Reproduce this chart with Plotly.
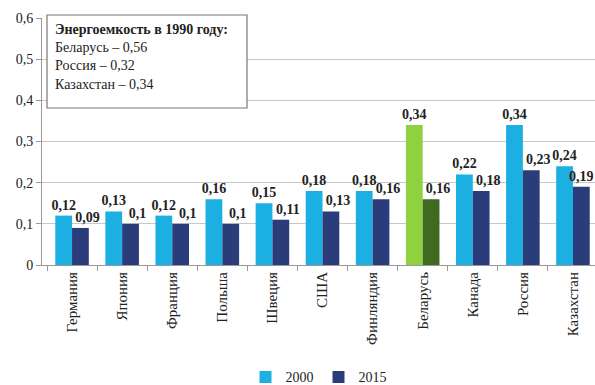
import plotly.graph_objects as go

countries = ["Германия", "Япония", "Франция", "Польша", "Швеция", "США",
             "Финляндия", "Беларусь", "Канада", "Россия", "Казахстан"]
v2000 = [0.12, 0.13, 0.12, 0.16, 0.15, 0.18, 0.18, 0.34, 0.22, 0.34, 0.24]
v2015 = [0.09, 0.10, 0.10, 0.10, 0.11, 0.13, 0.16, 0.16, 0.18, 0.23, 0.19]
highlight = "Беларусь"

c2000 = ["#8fd13f" if c == highlight else "#1cb0e2" for c in countries]
c2015 = ["#3e6b1f" if c == highlight else "#2a3d7a" for c in countries]
# 2015 labels are nudged right (as in the source), except the last one at the edge
t2015 = ["&nbsp;&nbsp;&nbsp;&nbsp;<b>%{y}</b>"] * (len(countries) - 1) + ["<b>%{y}</b>"]

font_fam = "Liberation Serif"
PW = 553  # plot width in px (595 - 42 - 0)

fig = go.Figure()
fig.add_trace(go.Bar(x=countries, y=v2000, name="2000",
                     marker=dict(color=c2000, line=dict(width=0)),
                     texttemplate="<b>%{y}</b>", textposition="outside",
                     constraintext="none",
                     textfont=dict(family=font_fam, size=14, color="#222"),
                     cliponaxis=False))
fig.add_trace(go.Bar(x=countries, y=v2015, name="2015",
                     marker=dict(color=c2015, line=dict(width=0)),
                     texttemplate=t2015, textposition="outside",
                     constraintext="none",
                     textfont=dict(family=font_fam, size=14, color="#222"),
                     cliponaxis=False))

fig.update_layout(
    width=595, height=385,
    margin=dict(l=42, r=0, t=18, b=120, autoexpand=False),
    separators=", ",
    barmode="group", bargap=0.33, bargroupgap=0.0,
    plot_bgcolor="white", paper_bgcolor="white",
    font=dict(family=font_fam, size=13, color="#222"),
    showlegend=True,
    legend=dict(orientation="h", x=0.5, xanchor="center", y=-0.455, yanchor="middle",
                font=dict(family=font_fam, size=14, color="#222"),
                itemwidth=30, tracegroupgap=0),
    xaxis=dict(tickangle=-90, showline=True, linecolor="#999", ticks="outside",
               tickson="boundaries", ticklen=5, tickcolor="#999", automargin=False,
               range=[-0.6, 10.44],
               tickfont=dict(family=font_fam, size=15, color="#222")),
    yaxis=dict(range=[0, 0.6], dtick=0.1, showgrid=True, gridcolor="#c8c8c8",
               showline=True, linecolor="#999", ticks="outside", ticklen=5,
               tickcolor="#999", zeroline=False, automargin=False,
               tickfont=dict(family=font_fam, size=14, color="#222")),
    shapes=[dict(type="rect", xref="paper", yref="paper",
                 x0=5 / PW, x1=205 / PW, y0=(265 - 108) / 247, y1=(265 - 15) / 247,
                 fillcolor="white", line=dict(color="#777", width=1.2), layer="above")],
    annotations=[dict(xref="paper", yref="paper", x=11 / PW, y=(265 - 20) / 247,
                      xanchor="left", yanchor="top", align="left", showarrow=False,
                      text="<b>Энергоемкость в 1990 году:</b><br>Беларусь – 0,56<br>Россия – 0,32<br>Казахстан – 0,34",
                      font=dict(family=font_fam, size=14, color="#222"))],
)

fig.write_html("out.html", config={"displayModeBar": False},
               post_script="document.body.style.margin='0';")
